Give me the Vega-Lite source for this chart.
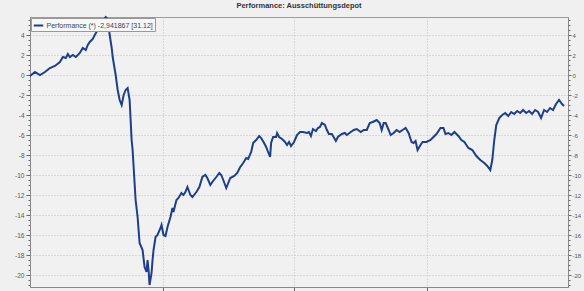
{
  "$schema": "https://vega.github.io/schema/vega-lite/v6.json",
  "width": 538,
  "height": 270,
  "autosize": {"type": "none"},
  "padding": {"left": 30, "top": 17, "right": 16, "bottom": 4},
  "background": "#f0f0f0",
  "title": {"text": "Performance: Ausschüttungsdepot", "fontSize": 7.5, "font": "Liberation Sans", "fontWeight": "bold", "color": "#333333", "anchor": "middle", "offset": 4},
  "config": {
    "view": {"fill": "#f1f1f1", "stroke": "#9a9a9a", "strokeWidth": 1},
    "axis": {"labelFont": "Liberation Sans", "labelFontSize": 6.5, "labelColor": "#555555", "tickColor": "#666666", "domainColor": "#888888", "gridColor": "#bdbdbd", "gridDash": [1, 2], "gridWidth": 1, "title": null}
  },
  "data": {"values": [
    {"i":0,"v":-0.1},{"i":5,"v":0.3},{"i":10,"v":0},{"i":15,"v":0.3},{"i":20,"v":0.7},{"i":25,"v":0.9},{"i":30,"v":1.3},{"i":33,"v":1.8},{"i":36,"v":1.7},{"i":38,"v":2.1},{"i":40,"v":1.8},{"i":43,"v":2.0},{"i":46,"v":1.8},{"i":50,"v":2.2},{"i":53,"v":2.7},{"i":56,"v":2.5},{"i":58,"v":3.0},{"i":60,"v":3.3},{"i":63,"v":3.6},{"i":65,"v":4.0},{"i":68,"v":4.5},{"i":70,"v":4.8},{"i":72,"v":5.1},{"i":74,"v":5.5},{"i":76,"v":5.8},{"i":78,"v":5.6},{"i":80,"v":4.0},{"i":82,"v":2.7},{"i":83,"v":1.8},{"i":86,"v":0.0},{"i":88,"v":-1.5},{"i":90,"v":-2.5},{"i":92,"v":-3.0},{"i":94,"v":-2.0},{"i":96,"v":-1.5},{"i":98,"v":-1.3},{"i":100,"v":-2.5},{"i":101,"v":-4.5},{"i":102,"v":-6.5},{"i":103,"v":-7.5},{"i":106,"v":-12.5},{"i":108,"v":-14.2},{"i":110,"v":-16.8},{"i":113,"v":-17.5},{"i":115,"v":-19.2},{"i":117,"v":-19.7},{"i":118,"v":-18.5},{"i":119,"v":-19.5},{"i":120,"v":-21.0},{"i":122,"v":-19.8},{"i":123,"v":-18.5},{"i":124,"v":-17.5},{"i":126,"v":-16.2},{"i":128,"v":-16.0},{"i":131,"v":-15.3},{"i":132,"v":-15.0},{"i":134,"v":-16.0},{"i":136,"v":-16.1},{"i":138,"v":-15.2},{"i":141,"v":-14.2},{"i":143,"v":-13.3},{"i":144,"v":-13.7},{"i":147,"v":-12.5},{"i":149,"v":-12.3},{"i":152,"v":-11.8},{"i":154,"v":-12.0},{"i":156,"v":-11.7},{"i":158,"v":-11.2},{"i":161,"v":-12.0},{"i":163,"v":-12.2},{"i":167,"v":-11.7},{"i":170,"v":-11.2},{"i":173,"v":-10.2},{"i":176,"v":-10.0},{"i":178,"v":-10.3},{"i":181,"v":-11.0},{"i":183,"v":-10.7},{"i":187,"v":-10.2},{"i":190,"v":-9.8},{"i":192,"v":-10.0},{"i":194,"v":-10.5},{"i":197,"v":-11.3},{"i":199,"v":-10.8},{"i":201,"v":-10.3},{"i":205,"v":-10.1},{"i":208,"v":-9.8},{"i":211,"v":-9.2},{"i":214,"v":-8.8},{"i":217,"v":-8.3},{"i":219,"v":-8.4},{"i":222,"v":-7.7},{"i":224,"v":-6.8},{"i":227,"v":-6.5},{"i":230,"v":-6.1},{"i":232,"v":-6.3},{"i":235,"v":-6.8},{"i":237,"v":-7.2},{"i":239,"v":-7.7},{"i":241,"v":-8.2},{"i":242,"v":-6.8},{"i":244,"v":-6.2},{"i":247,"v":-6.2},{"i":248,"v":-5.8},{"i":250,"v":-6.2},{"i":253,"v":-6.4},{"i":256,"v":-6.7},{"i":258,"v":-7.0},{"i":260,"v":-6.7},{"i":262,"v":-7.1},{"i":265,"v":-6.7},{"i":268,"v":-6.0},{"i":271,"v":-5.7},{"i":274,"v":-5.7},{"i":278,"v":-5.8},{"i":280,"v":-5.7},{"i":282,"v":-6.1},{"i":284,"v":-5.4},{"i":287,"v":-5.6},{"i":289,"v":-5.3},{"i":291,"v":-5.2},{"i":293,"v":-4.8},{"i":296,"v":-5.0},{"i":298,"v":-5.5},{"i":300,"v":-5.9},{"i":303,"v":-5.9},{"i":307,"v":-6.6},{"i":309,"v":-6.2},{"i":313,"v":-5.9},{"i":316,"v":-5.8},{"i":318,"v":-6.0},{"i":322,"v":-5.7},{"i":325,"v":-5.5},{"i":328,"v":-5.4},{"i":332,"v":-5.7},{"i":335,"v":-5.5},{"i":338,"v":-5.5},{"i":341,"v":-4.8},{"i":344,"v":-4.7},{"i":348,"v":-4.5},{"i":351,"v":-4.8},{"i":353,"v":-5.5},{"i":355,"v":-4.8},{"i":357,"v":-4.8},{"i":360,"v":-5.5},{"i":362,"v":-6.0},{"i":365,"v":-5.8},{"i":368,"v":-5.5},{"i":371,"v":-5.7},{"i":374,"v":-5.5},{"i":377,"v":-5.3},{"i":380,"v":-5.8},{"i":383,"v":-6.7},{"i":385,"v":-6.8},{"i":387,"v":-6.6},{"i":389,"v":-7.5},{"i":392,"v":-7.0},{"i":394,"v":-6.7},{"i":398,"v":-6.7},{"i":402,"v":-6.5},{"i":405,"v":-6.2},{"i":408,"v":-5.9},{"i":412,"v":-5.3},{"i":415,"v":-5.3},{"i":417,"v":-5.9},{"i":420,"v":-5.8},{"i":423,"v":-6.0},{"i":426,"v":-5.7},{"i":430,"v":-6.1},{"i":433,"v":-6.5},{"i":436,"v":-6.7},{"i":440,"v":-7.3},{"i":444,"v":-7.5},{"i":448,"v":-8.1},{"i":452,"v":-8.5},{"i":456,"v":-8.8},{"i":459,"v":-9.1},{"i":462,"v":-9.5},{"i":464,"v":-8.5},{"i":466,"v":-6.5},{"i":468,"v":-5.0},{"i":471,"v":-4.3},{"i":474,"v":-4.0},{"i":477,"v":-3.8},{"i":480,"v":-4.1},{"i":483,"v":-3.7},{"i":486,"v":-3.9},{"i":489,"v":-3.6},{"i":492,"v":-3.8},{"i":495,"v":-3.5},{"i":498,"v":-3.8},{"i":501,"v":-3.6},{"i":504,"v":-3.9},{"i":507,"v":-3.5},{"i":510,"v":-3.7},{"i":513,"v":-4.3},{"i":516,"v":-3.5},{"i":519,"v":-3.7},{"i":522,"v":-3.3},{"i":525,"v":-3.5},{"i":528,"v":-2.9},{"i":531,"v":-2.5},{"i":534,"v":-2.9},{"i":536,"v":-3.1}
  ]},
  "transform": [{"calculate": "'Performance (*) -2,941867 [31.12]'", "as": "series"}],
  "layer": [
    {
      "mark": {"type": "line", "strokeWidth": 2, "interpolate": "linear"},
      "encoding": {
        "x": {"field": "i", "type": "quantitative", "scale": {"domain": [0, 540], "nice": false, "zero": false},
              "axis": {"values": [133, 265, 398], "labels": false, "tickSize": 4, "grid": true, "domainColor": "#888888"}},
        "y": {"field": "v", "type": "quantitative", "scale": {"domain": [-21.2, 5.8], "nice": false, "zero": false},
              "axis": {"orient": "left", "values": [-21,-20.5,-20,-19.5,-19,-18.5,-18,-17.5,-17,-16.5,-16,-15.5,-15,-14.5,-14,-13.5,-13,-12.5,-12,-11.5,-11,-10.5,-10,-9.5,-9,-8.5,-8,-7.5,-7,-6.5,-6,-5.5,-5,-4.5,-4,-3.5,-3,-2.5,-2,-1.5,-1,-0.5,0,0.5,1,1.5,2,2.5,3,3.5,4,4.5,5,5.5],
                       "labelExpr": "datum.value % 2 == 0 ? datum.value : ''", "labelOverlap": false, "labelPadding": 2,
                       "tickSize": {"condition": {"test": "datum.value % 2 == 0", "value": 4}, "value": 2},
                       "gridOpacity": {"condition": {"test": "datum.value % 2 == 0", "value": 1}, "value": 0}}},
        "color": {"field": "series", "type": "nominal", "scale": {"range": ["#1c3f8c"]},
                  "legend": {"title": null, "orient": "top-left", "offset": 1, "padding": 1.5, "strokeColor": "#999999", "fillColor": "#f7f7f7", "symbolType": "stroke", "symbolSize": 90, "symbolStrokeWidth": 2, "labelFontSize": 7, "labelFont": "Liberation Sans", "labelColor": "#444444", "labelOffset": 2, "cornerRadius": 0}}
      }
    },
    {
      "mark": {"type": "line", "strokeOpacity": 0},
      "encoding": {
        "x": {"field": "i", "type": "quantitative", "scale": {"domain": [0, 540], "nice": false, "zero": false}},
        "y": {"field": "v", "type": "quantitative", "scale": {"domain": [-21.2, 5.8], "nice": false, "zero": false},
              "axis": {"orient": "right", "grid": false, "labelFontSize": 6, "values": [-21,-20.5,-20,-19.5,-19,-18.5,-18,-17.5,-17,-16.5,-16,-15.5,-15,-14.5,-14,-13.5,-13,-12.5,-12,-11.5,-11,-10.5,-10,-9.5,-9,-8.5,-8,-7.5,-7,-6.5,-6,-5.5,-5,-4.5,-4,-3.5,-3,-2.5,-2,-1.5,-1,-0.5,0,0.5,1,1.5,2,2.5,3,3.5,4,4.5,5,5.5],
                       "labelExpr": "datum.value % 2 == 0 ? datum.value : ''", "labelOverlap": false, "labelPadding": 1,
                       "tickSize": {"condition": {"test": "datum.value % 2 == 0", "value": 3}, "value": 2}}}
      }
    }
  ],
  "resolve": {"scale": {"y": "independent"}}
}
